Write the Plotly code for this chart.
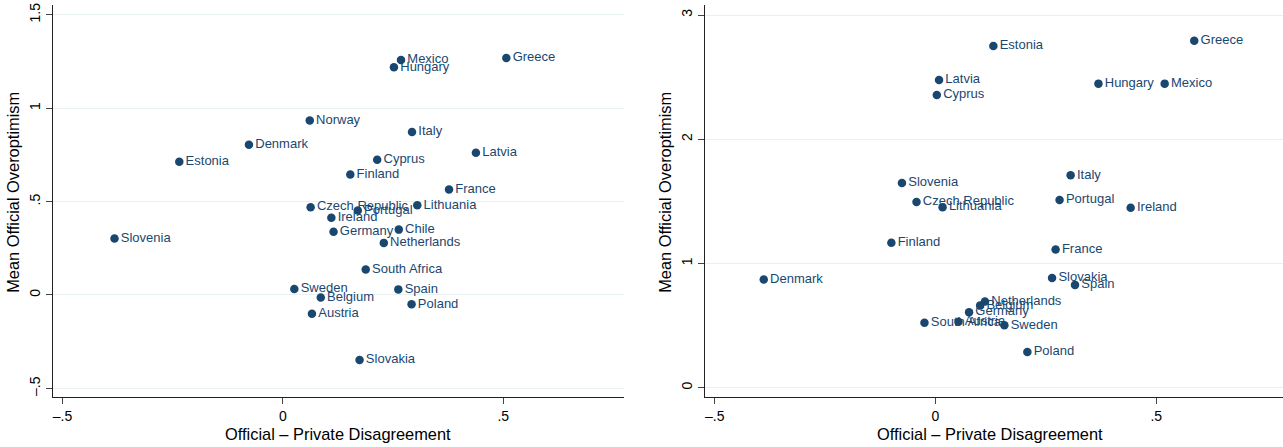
import plotly.graph_objects as go

# ---- Data ----
countries_a = ["Mexico", "Hungary", "Greece", "Norway", "Italy", "Denmark", "Estonia",
               "Cyprus", "Latvia", "Finland", "France", "Czech Republic", "Portugal",
               "Lithuania", "Ireland", "Germany", "Chile", "Netherlands", "Slovenia",
               "South Africa", "Sweden", "Spain", "Belgium", "Poland", "Austria", "Slovakia"]
x_a = [0.268, 0.252, 0.507, 0.061, 0.293, -0.077, -0.235,
       0.214, 0.438, 0.153, 0.377, 0.063, 0.170,
       0.305, 0.110, 0.115, 0.263, 0.229, -0.382,
       0.188, 0.026, 0.262, 0.086, 0.292, 0.066, 0.174]
y_a = [1.258, 1.219, 1.269, 0.935, 0.873, 0.805, 0.713,
       0.724, 0.762, 0.645, 0.565, 0.470, 0.452,
       0.480, 0.414, 0.339, 0.350, 0.279, 0.302,
       0.136, 0.032, 0.030, -0.014, -0.050, -0.100, -0.348]

countries_b = ["Estonia", "Greece", "Latvia", "Cyprus", "Hungary", "Mexico", "Italy",
               "Slovenia", "Czech Republic", "Lithuania", "Portugal", "Ireland", "Finland",
               "France", "Denmark", "Slovakia", "Spain", "Netherlands", "Belgium",
               "Germany", "South Africa", "Austria", "Sweden", "Poland"]
x_b = [0.131, 0.586, 0.008, 0.003, 0.369, 0.519, 0.306,
       -0.076, -0.043, 0.016, 0.281, 0.442, -0.100,
       0.272, -0.389, 0.264, 0.316, 0.112, 0.101,
       0.076, -0.025, 0.052, 0.156, 0.208]
y_b = [2.751, 2.794, 2.477, 2.357, 2.448, 2.448, 1.710,
       1.649, 1.496, 1.453, 1.512, 1.448, 1.167,
       1.113, 0.871, 0.884, 0.828, 0.694, 0.661,
       0.608, 0.524, 0.532, 0.503, 0.288]

x_tickvals = [-0.5, 0, 0.5]
x_ticktext = ["–.5", "0", ".5"]
ya_tickvals = [-0.5, 0, 0.5, 1, 1.5]
ya_ticktext = ["–.5", "0", ".5", "1", "1.5"]
yb_tickvals = [0, 1, 2, 3]
yb_ticktext = ["0", "1", "2", "3"]
x_title = "Official – Private Disagreement"
y_title = "Mean Official Overoptimism"

# ---- Styling ----
W, H = 1283, 447
NAVY = "#1a476f"
FONT = "Liberation Sans, Arial, Helvetica, sans-serif"
GRID = "#e9f0f2"

def fx(px):
    return px / W

def fy(py):
    return 1 - py / H

fig = go.Figure()
for xs, ys, names, xa, ya in [(x_a, y_a, countries_a, "x", "y"),
                              (x_b, y_b, countries_b, "x2", "y2")]:
    fig.add_trace(go.Scatter(
        x=xs, y=ys, text=names, mode="markers+text", textposition="middle right",
        marker=dict(color=NAVY, size=8.5, line=dict(width=0)),
        textfont=dict(color=NAVY, size=13, family=FONT),
        cliponaxis=False, xaxis=xa, yaxis=ya, showlegend=False, hoverinfo="skip"))

common_x = dict(showline=True, linecolor="#222", linewidth=1, ticks="outside", ticklen=6,
                tickcolor="#444", tickwidth=1, showgrid=False, zeroline=False,
                tickvals=x_tickvals, ticktext=x_ticktext, automargin=False,
                tickfont=dict(size=14, color="black", family=FONT))
common_y = dict(showline=True, linecolor="#222", linewidth=1, ticks="outside", ticklen=6,
                tickcolor="#444", tickwidth=1, showgrid=True, gridcolor=GRID, gridwidth=1,
                zeroline=False, tickangle=-90, automargin=False,
                tickfont=dict(size=14, color="black", family=FONT))

ydom = [fy(397.3), fy(5)]
fig.update_layout(
    width=W, height=H, margin=dict(l=0, r=0, t=0, b=0),
    paper_bgcolor="white", plot_bgcolor="white",
    font=dict(family=FONT, color="black"),
    xaxis=dict(domain=[fx(52.8), fx(624)], range=[-0.522, 0.774], anchor="y", **common_x),
    yaxis=dict(domain=ydom, range=[-0.548, 1.553], anchor="x",
               tickvals=ya_tickvals, ticktext=ya_ticktext, **common_y),
    xaxis2=dict(domain=[fx(704.8), 1.0], range=[-0.5225, 0.787], anchor="y2", **common_x),
    yaxis2=dict(domain=ydom, range=[-0.077, 3.081], anchor="x2",
                tickvals=yb_tickvals, ticktext=yb_ticktext, **common_y),
)

ann = dict(xref="paper", yref="paper", showarrow=False,
           font=dict(size=16.4, color="black", family=FONT))
fig.add_annotation(text=x_title, x=fx(338.4), y=fy(433.7), xanchor="center", yanchor="middle", **ann)
fig.add_annotation(text=x_title, x=fx(990.3), y=fy(433.7), xanchor="center", yanchor="middle", **ann)
fig.add_annotation(text=y_title, x=fx(12.3), y=fy(192.5), textangle=-90, xanchor="center", yanchor="middle", **ann)
fig.add_annotation(text=y_title, x=fx(664.3), y=fy(192.5), textangle=-90, xanchor="center", yanchor="middle", **ann)

fig.write_html("out.html", config={"displayModeBar": False},
               post_script="document.body.style.margin='0';document.body.style.overflow='hidden';")
